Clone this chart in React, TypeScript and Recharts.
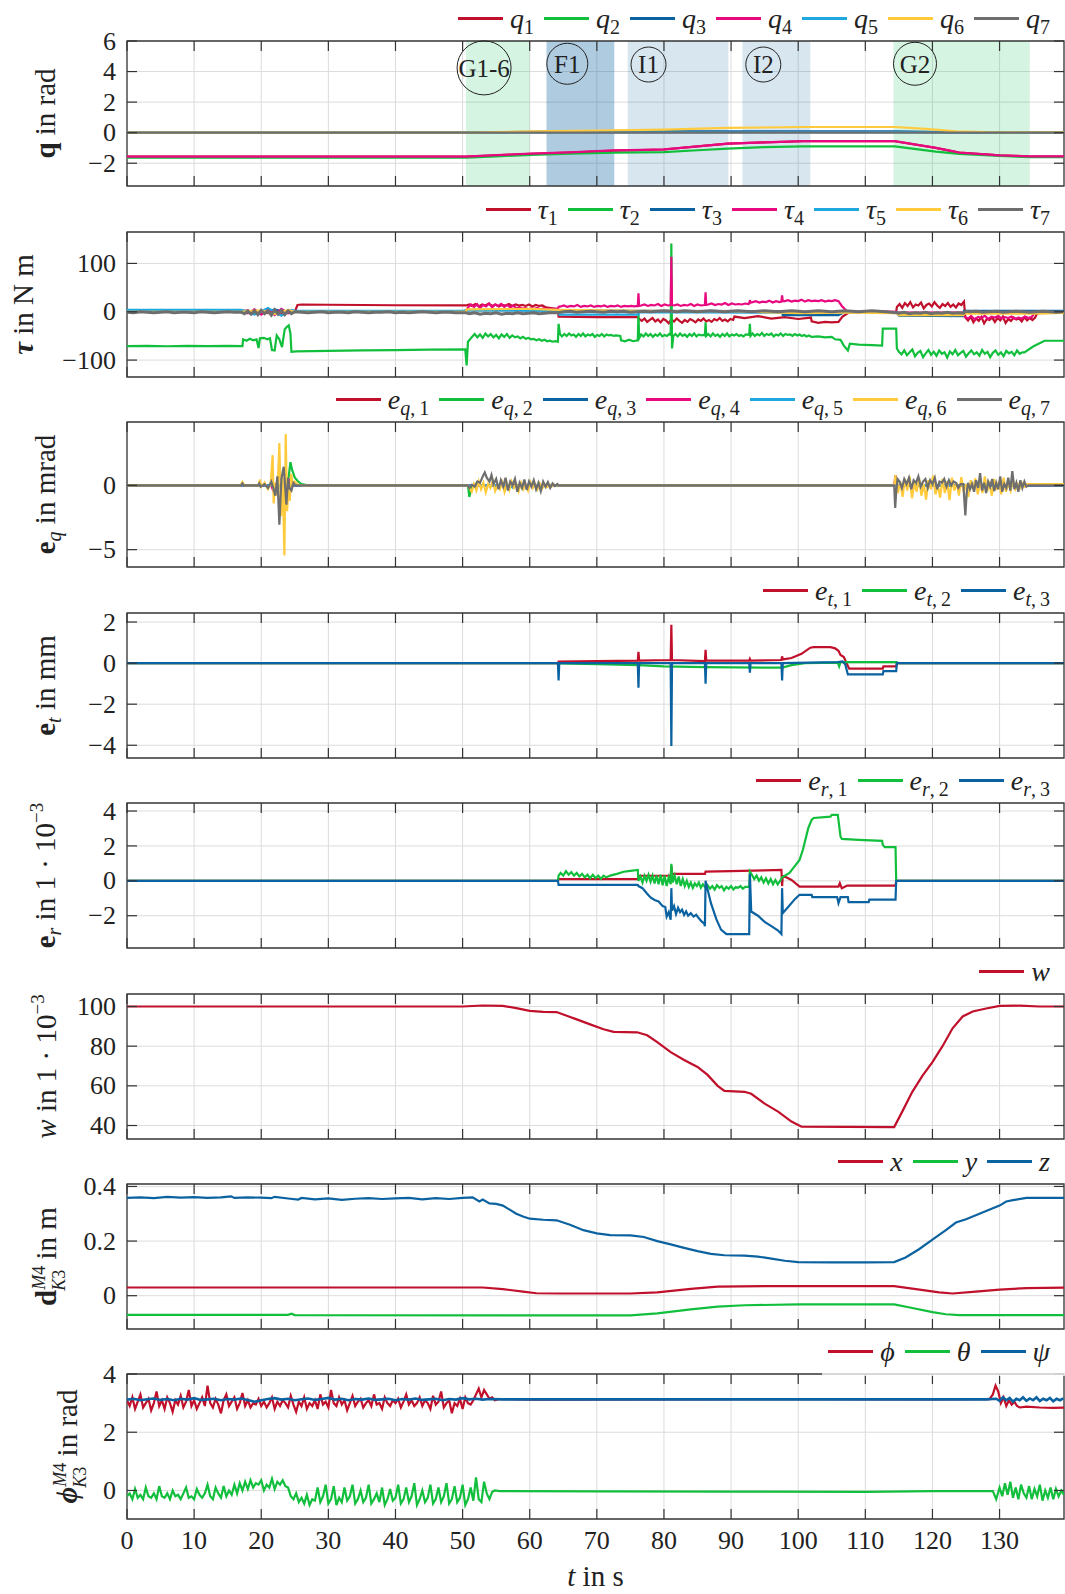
import React from "react";
import { LineChart, Line, XAxis, YAxis, CartesianGrid, ReferenceArea, ReferenceDot } from "recharts";

type P = [number, number];
const seq = (t0: number, dt: number, vals: number[]): P[] =>
  vals.map((v, i) => [Math.round((t0 + i * dt) * 1000) / 1000, v]);
const rows = (a: P[]) => a.map(([t, v]) => ({ t, v }));

// ---------- joint angles q ----------
const Q1: P[] = [[0,-1.57],[50.5,-1.57],[55,-1.48],[60.2,-1.38],[66,-1.3],[72.6,-1.17],[80,-1.1],[85,-0.9],[89.5,-0.72],[95,-0.64],[100.7,-0.56],[114.4,-0.56],[120.5,-1.0],[124,-1.3],[130,-1.48],[134.5,-1.56],[140,-1.56]];
const Q2: P[] = [[0,-1.64],[50.5,-1.64],[55,-1.55],[60.2,-1.45],[66,-1.37],[72.6,-1.3],[80,-1.27],[85,-1.15],[89.5,-1.05],[95,-0.95],[100.7,-0.9],[114.4,-0.9],[120.5,-1.24],[124,-1.39],[130,-1.52],[134.5,-1.6],[140,-1.6]];
const Q3: P[] = [[0,0],[50.5,0],[56,0.04],[62,0.07],[80,0.08],[114.4,0.08],[125,0.02],[140,0]];
const Q4: P[] = [[0,-1.57],[50.5,-1.57],[55,-1.47],[60.2,-1.37],[66,-1.29],[72.6,-1.16],[77,-1.12],[80,-1.09],[85,-0.9],[89.5,-0.72],[95,-0.64],[100.7,-0.55],[114.4,-0.55],[120.5,-1.0],[124,-1.3],[130,-1.48],[134.5,-1.55],[140,-1.55]];
const Q5: P[] = [[0,0],[60,0.02],[114,0.03],[125,0],[140,0]];
const Q6: P[] = [[0,0],[50.5,0],[55,0.04],[60.2,0.09],[70,0.14],[80,0.2],[89.5,0.31],[100.7,0.37],[114.4,0.37],[119,0.25],[123.5,0.09],[128,0.03],[140,0.02]];
const Q7: P[] = [[0,0],[140,0]];

// task phases shown in the joint-angle panel
const PHASE_NAMES = ["G1-6", "F1", "I1", "I2", "G2"];
const PHASE_START = [50.5, 62.5, 74.6, 91.7, 114.2];
const PHASE_END = [60.0, 72.6, 89.6, 101.8, 134.5];
const PHASE_KIND = ["grasp", "force", "insert", "insert", "grasp"];
const PHASE_MARK_T = [53.2, 65.6, 77.7, 94.8, 117.4];
const PHASE_MARK_Q = [4.24, 4.51, 4.46, 4.46, 4.51];

// ---------- joint torques tau ----------
const TAU1: P[] = [
  [0,1],[17,1],[18,3],[19,-2],[20,2],[21,-3],[22,2],[23,-4],[24,3],[25,0],[25.4,14],[26,15],[30,14.5],[40,13.5],[50.5,13],[51,15],
  ...seq(51.4,0.5,[12,16,11,15,13,17,12,15,11,14,13,16,12,15,13,14,12,15,11,14,12,13,9,8,7,6]),
  [64.2,6],[64.3,-10],[70,-11],[76.1,-11],
  ...seq(76.3,0.4,[-15,-19,-14,-21,-17,-13,-20,-16,-22,-15,-18,-24,-16,-20,-14,-19,-23,-17,-21,-15,-18,-22,-16,-19,-14,-20,-17,-21,-15,-18,-13,-19,-16,-20,-15,-17]),
  [90.5,-10],[92,-13],[94,-9],[96,-14],[98,-11],[100,-15],[101.9,-12],[102,-20],[103,-23],[104,-21],[105,-22],[106,-21],[106.6,-10],[107.5,-2],[110,-1],[114.6,-1],
  ...seq(114.7,0.4,[10,16,8,18,12,20,9,15,13,19,7,14,17,11,20,13,8,16,12,18,10,15,9,17,14,21]),
  ...seq(124.9,0.4,[-12,-18,-10,-22,-14,-19,-11,-24,-15,-17,-12,-21,-13,-18,-10,-23,-15,-19,-12,-16,-14,-20,-11,-18,-13,-17,-12]),
  [135.6,-3],[140,-2],
];
const TAU2: P[] = [
  [0,-71],[3,-70.4],[6,-71.4],[9,-70.7],[12,-71.3],[15,-70.6],[17.2,-71],
  [17.3,-57],[17.8,-60],[18.3,-56],[18.8,-59],[19.3,-57],[19.6,-75],[19.8,-55],[20.4,-54],[20.9,-57],[21.3,-55],[21.6,-79],[22.0,-80],[22.3,-49],[22.7,-57],[23.1,-73],[23.5,-36],[23.9,-30],[24.1,-28],[24.35,-45],[24.5,-83],
  [25.2,-82],[30,-81],[35,-80],[40,-79.5],[45,-78.5],[50.4,-78],[50.6,-111],[50.8,-62],[51.4,-52],
  ...seq(51.8,0.4,[-46,-53,-47,-54,-45,-51,-46,-53,-48,-55,-47,-52,-46,-54,-49,-53,-51,-55,-52,-56,-54,-57,-56,-59,-57,-60,-58,-61,-60,-62,-61]),
  [64.2,-62],[64.3,-25],[64.5,-46],
  ...seq(64.8,0.35,[-51,-46,-50,-45,-49,-47,-52,-46,-50,-45,-51,-47,-49,-46,-52,-48,-50,-46,-51,-47,-49,-48,-50,-49]),
  [73.5,-50],[73.6,-59],[74.2,-61],[74.8,-58],[75.4,-61],[76.1,-59],[76.2,-4],[76.3,-55],
  ...seq(76.6,0.35,[-47,-51,-45,-50,-46,-52,-47,-50,-45,-51,-48,-50,-46]),
  [81.0,-48],[81.1,141],[81.2,-76],[81.4,-50],
  ...seq(81.7,0.35,[-46,-51,-45,-50,-47,-52,-46,-50,-45,-51,-47,-49,-48]),
  [86.1,-49],[86.2,-22],[86.3,-50],
  ...seq(86.6,0.35,[-46,-51,-45,-50,-47,-52,-46,-50,-45,-51,-47,-49,-46,-50,-48,-51,-47]),
  [92.7,-48],[92.8,-25],[92.9,-50],
  ...seq(93.2,0.35,[-45,-50,-46,-49,-44,-50,-46,-48,-45,-51,-47,-49,-45,-50,-46,-48,-47,-50,-46,-49,-47,-50,-48,-51,-49]),
  [102,-52],[103,-51],[104,-53],[105,-52],[105.5,-57],[106.3,-58],[106.8,-70],[107.4,-80],[107.7,-66],[109,-68],[111,-69],[112.5,-70],[112.6,-35],[114.6,-35],[114.7,-76],
  ...seq(115.0,0.4,[-83,-88,-80,-90,-84,-78,-92,-85,-81,-94,-86,-79,-89,-83,-91,-80,-87,-84,-95,-82,-88,-79,-90,-85,-81,-93,-86,-80,-88,-84,-91,-79,-87,-83,-94,-85,-80,-89,-84,-92,-81,-86,-83,-90,-80,-87,-84]),
  [133.7,-84],[135,-72],[136.7,-60],[140,-60],
];
const TAU3: P[] = [[0,3],[17,3],[20,-4],[22,5],[24,-3],[25,1],[50,1],[51,4],[60,3],[64.3,3],[76,2],[97.6,1],[97.7,-7],[106,-7],[107,0],[114.7,-1],[115,-8],[124.6,-9],[124.7,2],[140,2]];
const TAU4: P[] = [
  [0,1],[17,1],[18,-3],[19,5],[20,-6],[21,4],[22,-7],[23,6],[24,-3],[25,1],[50.5,1],
  ...seq(50.8,0.45,[9,15,10,16,8,14,11,17,9,15,12,16,10,14,9,13,7,10,6,8,5,7,6,8,5,7,6]),
  [64.2,6],[64.3,10],
  ...seq(64.6,0.5,[11,13,10,12,11,14,10,12,11,13,10,12,11,13,10,12,11,13,10,12,11,12,11]),
  [76.1,12],[76.2,38],[76.3,12],
  ...seq(76.6,0.5,[13,15,12,14,13,16,12,15,13]),
  [81.0,14],[81.1,114],[81.2,14],
  ...seq(81.5,0.5,[13,15,12,14,13,16,12,15,13,14]),
  [86.1,14],[86.2,40],[86.3,14],
  ...seq(86.6,0.5,[15,17,14,16,15,18,14,17,15,16,15,17,16]),
  [92.7,17],[92.8,24],[92.9,19],
  ...seq(93.2,0.5,[20,22,19,21,20,23,19,22,20]),
  [97.5,21],[97.6,34],[97.7,22],
  ...seq(98,0.5,[22,24,21,23,22,25,21,24,22,23,22,24,21,23,22,24]),
  [106,22],[106.5,12],[107.2,2],[107.6,0],[112,1],[114.6,0],[114.7,-2],[124.6,-2],
  ...seq(124.8,0.5,[-10,-14,-9,-16,-11,-13,-8,-15,-10,-12,-9,-14,-11,-13,-10,-15,-12,-14,-10,-13,-11]),
  [135.2,-2],[140,-1],
];
const TAU5: P[] = [[0,4],[17,4],[19,-6],[21,8],[23,-8],[24.5,4],[25,2],[50,2],[51,3],[64.3,2],[64.4,-6],[76.2,-6],[76.3,-1],[97.6,-2],[114.7,-1],[115,-6],[124.6,-6],[124.7,-1],[140,-1]];
const TAU6: P[] = [[0,0],[17,0],[20,3],[22,-5],[24,4],[25,0],[50.5,0],[50.6,5],[60,6],[64.3,4],[76.2,2],[90,1],[100,-3],[107,-2],[114.7,-3],[115,-7],[124.6,-7],[124.7,-4],[135,-4],[140,-2]];
const TAU7: P[] = [
  ...seq(0,1,[-1,-2,0,-1,-2,-1,0,-2,-1,-1,-2,0,-1,-2,-1,0,-1]),
  [17,-1],[17.5,-4],[18,1],[18.5,-5],[19,2],[19.5,-6],[20,3],[20.5,-4],[21,2],[21.5,-7],[22,4],[22.5,-5],[23,3],[23.5,-6],[24,2],[24.5,-4],[25,0],
  ...seq(26,1,[-1,-2,-1,0,-2,-1,-1,-2,0,-1,-2,-1,-1,0,-2,-1,-2,-1,0,-1,-2,-1,-1,-2]),
  [50.5,-2],
  ...seq(51,0.8,[-4,-2,-5,-3,-4,-2,-5,-3,-4,-2,-4,-3,-2,-4,-3,-2]),
  [64.3,-2],
  ...seq(65,1,[0,1,-1,0,1,0,-1,1,0,1,-1,0,1,0,1,2,1,0,2,1,0,1,2,1,0,1,2,1,0,1,2,1,0,1,2,1,0,1,2,1,0,1,2,1,0,1,2,1,0]),
  [114.7,-2],
  ...seq(115,0.8,[-3,-1,-4,-2,-3,-1,-4,-2,-3,-1,-3,-2]),
  [124.6,-3],[125,1],
  ...seq(125.5,1,[0,1,-1,0,1,-1,0,1,0,-1,0,1,0,-1,0]),
];

// ---------- joint errors e_q (mrad) ----------
const EQ1: P[] = [[0,0],[24.2,0],[24.45,0.48],[24.7,0],[50.8,0],[51.0,-0.3],[51.3,0],[140,0]];
const EQ2: P[] = [[0,0],[23.6,0],[23.8,-0.5],[24.0,0.3],[24.35,1.8],[24.6,1.2],[25.0,0.6],[25.5,0.3],[26,0.1],[27,0],[50.8,0],[51.0,-0.9],[51.3,-0.2],[51.6,0],[140,0]];
const EQ3: P[] = [[0,0],[140,0]];
const EQ4: P[] = [[0,0],[21.5,0],[21.7,-0.3],[21.9,0],[23.9,0],[24.1,-0.5],[24.3,0.5],[24.5,0],[114.3,0],[114.5,0.8],[114.7,0],[140,0]];
const EQ5: P[] = [[0,0],[22.8,0],[22.95,-0.4],[23.1,0],[23.9,0.3],[24.1,0],[57,0],[57.5,-0.2],[58,0],[140,0]];
const EQ6: P[] = [
  [0,0],[16.9,0],[17.2,0.25],[17.5,0],[19.6,0],[19.8,0.45],[20.0,-0.1],[20.5,0.2],[21.0,-0.3],[21.4,0.1],[21.7,2.35],[21.85,-1.4],[22.1,0.2],[22.4,-0.8],[22.7,3.3],[22.95,-2.4],[23.2,0.6],[23.45,-5.45],[23.65,4.0],[23.85,-2.0],[24.05,-0.3],[24.25,-1.2],[24.45,0.9],[24.7,0.1],[25.0,0.3],[25.5,0.05],[26,0],[50.8,0],
  ...seq(51.0,0.35,[-0.2,-0.5,0.1,-0.4,0.3,-0.3,0.2,-0.55,0.1,-0.2,0.35,-0.45,0.0,-0.3,0.25,-0.5,0.15,-0.35,0.3,-0.2,0.1,-0.45,0.2,-0.3,0.05,-0.4,0.25,-0.2,0.1,-0.3,0.15,-0.25,0.1,-0.15,0.05,-0.1,0.05,0.0]),
  [64.3,0],[114.3,0],
  ...seq(114.5,0.35,[0.8,-0.6,0.3,-0.9,0.5,-0.4,0.7,-1.0,0.2,-0.5,0.6,-0.8,0.1,-1.1,0.4,-0.3,0.75,-0.7,0.0,-0.95,0.5,-0.6,0.3,-1.15,0.6,-0.4,0.2,-0.8,0.65,-0.5,0.1,-0.9,0.4,-0.3,0.55,-0.7,0.2,-0.6,0.7,-0.45,0.1,-0.8,0.5,-0.35,0.3,-0.7,0.6,-0.5,0.2,-0.4,0.45,-0.3,0.1,-0.2,0.15,-0.1,0.1]),
  [134.3,0.1],[140,0.1],
];
const EQ7: P[] = [
  [0,0],[17.0,0],[17.2,0.15],[17.4,0],[19.5,0],[19.7,0.15],[19.9,-0.1],[20.5,0.1],[21.0,-0.2],[21.5,0.3],[21.8,-0.2],[22.1,-0.8],[22.4,0.7],[22.7,-3.05],[23.0,0.5],[23.35,1.45],[23.6,-0.4],[23.75,-1.5],[24.0,0.6],[24.2,-0.2],[24.5,-0.4],[24.8,0.2],[25.1,0],[50.8,0],
  [51.0,-0.2],[51.4,0.05],[51.8,-0.1],[52.2,0.3],[52.6,0.2],[53.0,0.7],[53.3,1.0],[53.6,0.6],[54.0,0.3],[54.3,0.8],[54.6,0.1],
  ...seq(55,0.35,[0.5,-0.3,0.4,-0.1,0.6,-0.4,0.3,0.0,0.5,-0.5,0.2,-0.2,0.45,-0.35,0.3,-0.1,0.4,-0.3,0.2,-0.45,0.3,-0.1,0.25,-0.2,0.15,-0.05,0.1]),
  [64.3,0],[114.3,0],[114.45,-1.76],[114.6,-0.5],[114.8,0.5],
  ...seq(115.1,0.35,[0.3,-0.2,0.5,0.1,0.6,-0.3,0.4,0.2,0.7,-0.1,0.3,0.5,-0.2,0.4,0.1,0.6,-0.3,0.3,0.2,0.5,-0.1,0.4,0.0,0.3,0.2,-0.2,0.1]),
  [124.6,0.1],[124.9,-2.33],[125.1,-0.6],[125.3,0.2],
  ...seq(125.6,0.3,[-0.3,0.1,-0.5,0.4,-0.2,0.96,-0.4,0.2,-0.6,0.3,-0.1,0.5,-0.45,0.2,-0.3,0.7,-0.5,0.1,-0.2,0.6,-0.4,1.1,-0.3,0.2,-0.5,0.4,-0.2,0.3,-0.1]),
  [134.3,0],[140,0],
];

// ---------- translational error e_t (mm) ----------
const ET1: P[] = [[0,0],[64.2,0],[64.3,0.08],[70,0.1],[76.1,0.12],[76.2,0.55],[76.3,0.12],[81.0,0.15],[81.1,1.87],[81.2,0.15],[86.1,0.1],[86.2,0.65],[86.3,0.12],[92.7,0.12],[92.8,0.2],[92.9,0.12],[97.5,0.15],[97.6,0.33],[97.7,0.18],[99,0.25],[100.5,0.45],[101.8,0.75],[102.3,0.78],[104.8,0.78],[105.5,0.72],[106.0,0.6],[106.3,0.4],[106.8,0.3],[107.2,0],[107.6,-0.27],[112.6,-0.27],[112.7,-0.16],[114.6,-0.16],[114.7,0],[140,0]];
const ET2: P[] = [[0,0],[64.2,0],[64.3,-0.02],[70,-0.05],[76.2,-0.1],[80,-0.16],[86,-0.2],[97.6,-0.22],[99,-0.1],[101,0],[105.9,0.02],[106.1,-0.16],[106.3,0.05],[114.7,0.05],[114.8,0],[140,0]];
const ET3: P[] = [[0,0],[64.2,0],[64.3,-0.84],[64.4,0],[76.1,0],[76.2,-1.2],[76.3,0],[81.0,0],[81.1,-4.04],[81.2,0],[86.1,0],[86.2,-1.0],[86.3,0],[92.7,0],[92.8,-0.47],[92.9,0],[97.5,0],[97.6,-0.85],[97.7,0],[105.9,0.05],[106.6,0.08],[107,-0.05],[107.4,-0.55],[112.6,-0.55],[112.7,-0.39],[114.6,-0.39],[114.7,0],[140,0]];

// ---------- rotational error e_r (1e-3) ----------
const ER1: P[] = [[0,0],[64.2,0],[64.3,0.1],[76.1,0.1],[76.2,0.29],[81.0,0.3],[81.1,0.85],[81.2,0.4],[86.1,0.4],[86.2,0.53],[90,0.56],[95,0.6],[97.5,0.63],[97.6,-0.3],[97.7,0.3],[99,0.05],[100.2,-0.33],[106,-0.33],[106.2,-0.14],[106.5,-0.43],[107.3,-0.27],[114.5,-0.27],[114.6,0],[140,0]];
const ER2: P[] = [
  [0,0],[64.2,0],[64.3,0.3],
  ...seq(64.6,0.4,[0.45,0.3,0.55,0.35,0.5,0.3,0.45,0.25,0.4,0.2,0.35,0.15,0.35,0.15,0.3,0.12,0.3,0.2]),
  [72,0.3],[73,0.4],[74,0.52],[75,0.57],[76.1,0.62],[76.2,0.0],
  ...seq(76.5,0.3,[0.25,-0.1,0.3,0.0,0.35,-0.05,0.3,-0.15,0.3,-0.2,0.35,-0.25,0.3,-0.3,0.2,-0.2]),
  [81.1,0.97],[81.3,-0.1],
  ...seq(81.6,0.3,[0.3,-0.2,0.25,-0.3,0.1,-0.3,0.0,-0.35,-0.1,-0.4,-0.15,-0.3,-0.1,-0.4,-0.2]),
  [86.2,-0.4],
  ...seq(86.5,0.35,[-0.25,-0.45,-0.3,-0.5,-0.25,-0.4,-0.3,-0.55,-0.35,-0.45,-0.3,-0.5,-0.35,-0.4,-0.3,-0.45,-0.35]),
  [92.7,-0.35],[92.8,0.53],
  ...seq(93.1,0.35,[0.35,0.1,0.3,0.0,0.2,-0.1,0.15,-0.15,0.1,-0.2,0.05,-0.2,0.0]),
  [97.6,0.2],[98.7,0.45],[99.4,0.8],[100.2,1.2],[100.7,1.78],[101.5,3.02],[102,3.49],[102.3,3.6],[104.8,3.68],[105,3.78],[105.9,3.78],[106.3,2.54],[106.5,2.4],[109,2.35],[112.5,2.29],[112.6,2.06],[112.9,1.93],[114.5,1.93],[114.6,0],[140,0],
];
const ER3: P[] = [[0,0],[64.2,0],[64.3,-0.23],[76.1,-0.23],[76.2,-0.3],[76.8,-0.42],[77.4,-0.7],[78.0,-0.95],[78.6,-1.1],[79.2,-1.18],[79.8,-1.45],[80.2,-1.5],[80.4,-2.05],[80.7,-1.8],[81.0,-2.23],[81.1,-0.42],[81.2,-1.7],[81.5,-1.45],[81.8,-1.9],[82.1,-1.55],[82.4,-1.8],[82.7,-1.65],[83.0,-1.95],[83.3,-1.75],[83.6,-2.0],[84.0,-1.85],[84.4,-2.05],[84.8,-1.95],[85.2,-2.15],[85.6,-2.33],[86.0,-2.45],[86.1,-2.6],[86.2,0.0],[86.5,-0.5],[87,-1.28],[87.8,-2.2],[88.5,-2.8],[89.3,-3.05],[92.7,-3.05],[92.8,0.4],[93.0,-1.76],[94,-2.0],[95,-2.35],[96,-2.6],[97,-2.85],[97.5,-3.05],[97.6,-0.42],[97.7,-1.85],[98.5,-1.5],[99.5,-1.05],[100.2,-0.8],[102,-0.8],[102.1,-0.93],[105.8,-0.93],[106.0,-1.28],[106.3,-0.93],[107.4,-0.93],[107.5,-1.22],[110.5,-1.22],[110.6,-1.08],[114.5,-1.08],[114.6,0],[140,0]];

// ---------- manipulability w (1e-3) ----------
const W_MEAS: P[] = [[0,100],[50,100],[53,100.5],[56,100.3],[58,99.2],[60,97.8],[62,97.3],[64,97.2],[65,96],[67,93.5],[69,91],[71,88.5],[72.5,87.2],[76,87],[77.5,85.5],[79,82],[81,77],[83,73],[85,69.5],[86.5,65.5],[88,60],[89,57.5],[92,57],[93,56],[95,51],[97,47],[99,42],[100.5,39.4],[114.3,39.2],[115.5,47],[117,57],[118.5,65],[120,72],[121.5,80],[123,89],[124.5,95],[126,97.5],[128,99],[130,100.3],[133,100.4],[136,100],[140,100]];

// ---------- relative position d (m) ----------
const DX: P[] = [[0,0.03],[53,0.03],[56,0.024],[59,0.015],[61,0.009],[65,0.008],[75,0.008],[79,0.012],[84,0.025],[88,0.033],[95,0.035],[114.3,0.035],[117,0.026],[121,0.012],[123,0.008],[126,0.014],[130,0.022],[134,0.028],[140,0.03]];
const DY: P[] = [[0,-0.07],[24,-0.07],[24.5,-0.066],[25,-0.071],[60,-0.072],[75,-0.072],[79,-0.065],[84,-0.05],[88,-0.04],[92,-0.035],[100,-0.032],[114.3,-0.032],[117,-0.045],[120,-0.06],[122,-0.068],[124,-0.071],[140,-0.071]];
const DZ: P[] = [[0,0.358],[2,0.36],[4,0.357],[6,0.362],[8,0.359],[10,0.361],[12,0.358],[14,0.36],[15.5,0.364],[16,0.358],[18,0.36],[20,0.359],[21.5,0.357],[22,0.362],[24,0.356],[25.5,0.352],[26,0.358],[28,0.353],[30,0.356],[32,0.351],[34,0.355],[36,0.357],[38,0.354],[40,0.356],[42,0.358],[44,0.353],[46,0.357],[48,0.354],[50,0.358],[51.5,0.36],[52.5,0.345],[53,0.352],[54,0.338],[55,0.336],[56,0.33],[57,0.315],[58,0.3],[59,0.29],[60,0.282],[62,0.278],[64,0.276],[66,0.26],[68,0.24],[70,0.228],[72,0.222],[75,0.221],[77,0.215],[79,0.2],[81,0.188],[83,0.175],[85,0.163],[87,0.153],[89,0.148],[92,0.147],[94,0.143],[96,0.136],[98,0.128],[100,0.123],[105,0.122],[110,0.122],[114.3,0.123],[116,0.14],[118,0.17],[120,0.205],[122,0.24],[123.5,0.268],[125,0.28],[127,0.3],[129,0.32],[130,0.33],[131,0.345],[132,0.35],[134,0.358],[136,0.358],[140,0.358]];

// ---------- relative orientation (rad) ----------
const PHI: P[] = [
  ...seq(0,0.4,[3.1,2.9,3.2,2.8,3.05,3.3,2.85,3.0,3.15,2.75, 3.0,3.4,2.9,3.1,2.8,3.2,3.0,2.7,3.1,2.95, 3.25,2.85,3.05,3.45,2.9,3.1,2.8,3.0,3.2,2.9, 3.6,3.0,2.85,3.15,2.95,2.65,3.1,3.3,2.9,3.05, 3.2,2.8,3.0,3.35,2.9,3.1,2.85,3.0,2.95,3.15, 2.9,3.05,2.85,3.0,3.2,2.8,3.05,2.9,3.1,3.0, 2.85,3.25,2.95,2.7,3.05,2.9,3.2,2.8,3.0,2.9, 3.1,2.8,3.3,2.95,3.05,2.85,3.45,3.0,2.9,3.2, 2.95,3.1,2.75,3.0,3.25,2.9,3.05,3.15,2.85,3.0, 3.1,2.9,3.3,2.95,3.0,2.8,3.2,3.0,2.9,3.1, 3.0,3.15,2.85,3.05,3.3,2.95,3.1,2.9,3.0,3.2, 2.9,3.1,3.0,2.8,3.25,2.95,3.05,3.4,2.85,3.0, 3.1,2.65,3.0,2.9,3.15,2.8,3.2,3.0,2.95,3.1, 3.3,3.5,3.2,3.45,3.3,3.15,3.2,3.1]),
  [55.5,3.14],[60,3.12],[80,3.13],[100,3.14],[120,3.13],[128.5,3.14],[129,3.3],[129.4,3.6],[129.8,3.4],[130.2,3.0],[130.6,3.2],[131,2.9],[131.4,3.1],[131.8,2.95],[132.2,3.05],[132.6,2.9],[133,2.85],[134,2.88],[136,2.85],[138,2.84],[140,2.85],
];
const THETA: P[] = [
  ...seq(0,0.4,[-0.2,-0.1,-0.3,0.05,-0.25,-0.15,-0.3,0.1,-0.2,-0.25, -0.1,-0.3,0.15,-0.2,-0.25,-0.1,-0.3,0.0,-0.2,-0.15, -0.3,-0.1,0.1,-0.25,-0.2,-0.3,0.05,-0.15,-0.25,-0.1, 0.2,-0.2,-0.3,0.1,-0.1,-0.25,0.15,-0.2,0.0,-0.15, 0.2,-0.1,0.25,0.0,0.3,0.05,0.35,0.1,0.25,0.2, 0.35,0.0,0.2,0.1,0.4,0.05,0.3,0.2,0.35,0.15, 0.1,-0.2,-0.3,-0.1,-0.4,-0.25,-0.45,-0.15,-0.5,-0.3, -0.35,0.1,-0.4,-0.2,0.2,-0.45,-0.3,0.15,-0.5,-0.25, -0.4,0.1,-0.35,-0.2,0.2,-0.45,-0.3,0.0,-0.4,-0.25, 0.2,-0.45,-0.3,-0.1,-0.4,0.1,-0.5,-0.3,0.05,-0.35, -0.25,0.2,-0.45,-0.3,0.1,-0.4,-0.2,0.25,-0.5,-0.3, 0.0,-0.4,-0.25,0.2,-0.45,-0.3,0.1,-0.4,-0.2,0.25, -0.45,-0.3,0.15,-0.4,-0.25,0.2,-0.5,-0.3,0.1,-0.35, 0.45,-0.3,-0.4,0.3,-0.1,-0.3,-0.05,0.0]),
  [55.5,-0.02],[70,-0.03],[90,-0.04],[110,-0.05],[120,-0.02],[129,-0.02],[129.5,-0.3],
  ...seq(130,0.4,[0.1,-0.2,0.25,-0.15,0.3,-0.25,0.1,-0.3,0.2,-0.1,-0.25,0.15,-0.3,0.05,-0.2,0.2,-0.35,0.0,-0.25,0.1,-0.3,0.05,-0.2,0.0,-0.15]),
];
const PSI: P[] = [
  ...seq(0,1,[3.12,3.15,3.1,3.13,3.16,3.11,3.14,3.1,3.15,3.12,3.17,3.11,3.13,3.15,3.1,3.14,3.12,3.16,3.11,3.05,3.1,3.14,3.17,3.12,3.15,3.1,3.13,3.16,3.11,3.14,3.18,3.12,3.15,3.1,3.14,3.12,3.16,3.11,3.13,3.15,3.1,3.14,3.12,3.16,3.11,3.13,3.15,3.1,3.14,3.12,3.17,3.13,3.15,3.12,3.14]),
  [56,3.13],[80,3.13],[128,3.13],
  ...seq(129.5,0.5,[3.15,3.08,3.2,3.1,3.18,3.05,3.15,3.1,3.2,3.08,3.16,3.1,3.2,3.07,3.15,3.1,3.18,3.06,3.15,3.1,3.16]),
];

// ---------- layout & styling ----------
const FONT = "'Liberation Serif', 'Times New Roman', serif";
const RED = "#C0102B", GREEN = "#12BF3C", BLUE = "#0B62A0", MAGENTA = "#E8087F", CYAN = "#1FA7E0", YELLOW = "#FFCB3D", GRAY = "#6E6E6E";
const JOINT_COLORS = [RED, GREEN, BLUE, MAGENTA, CYAN, YELLOW, GRAY];
const PAGE_W = 1065, PAGE_H = 1594;
const PLOT_L = 127, PLOT_R = 1064, PANEL_H = 145, TOP_PAD = 20;
const X_MAX = 139.6;
const X_TICKS = [0, 10, 20, 30, 40, 50, 60, 70, 80, 90, 100, 110, 120, 130];
const PANEL_TOPS = [41, 232, 422, 613, 803, 994, 1184, 1374];
const PHASE_FILL: Record<string, string> = { grasp: "rgba(46,200,110,0.2)", force: "rgba(11,98,160,0.33)", insert: "rgba(11,98,160,0.16)" };
const PHASE_MARK_R = [27, 20.5, 17.5, 17.5, 21.5];
const TICK_FS = 26;

const fmtNum = (v: number) => (v < 0 ? "\u2212" + Math.abs(v) : String(v));

type SeriesDef = { data: P[]; color: string; width?: number };
type PanelProps = { top: number; domain: [number, number]; yTicks: number[]; series: SeriesDef[]; last?: boolean; extras?: React.ReactNode };

function Panel({ top, domain, yTicks, series, last, extras }: PanelProps) {
  const xh = last ? 70 : 8;
  const H = TOP_PAD + PANEL_H + xh;
  const plotTop = TOP_PAD;
  const plotBottom = TOP_PAD + PANEL_H;
  const yTick = (p: any) => (
    <g>
      <line x1={PLOT_L} x2={PLOT_L + 10} y1={p.y} y2={p.y} stroke="#333" strokeWidth={1.2} />
      <line x1={PLOT_R - 10} x2={PLOT_R} y1={p.y} y2={p.y} stroke="#333" strokeWidth={1.2} />
      <text x={PLOT_L - 11} y={p.y} dy="0.33em" textAnchor="end" fontFamily={FONT} fontSize={TICK_FS} fill="#222">
        {fmtNum(p.payload.value)}
      </text>
    </g>
  );
  const xTick = (p: any) => (
    <g>
      <line x1={p.x} x2={p.x} y1={plotTop} y2={plotTop + 10} stroke="#333" strokeWidth={1.2} />
      <line x1={p.x} x2={p.x} y1={plotBottom - 10} y2={plotBottom} stroke="#333" strokeWidth={1.2} />
      {last && (
        <text x={p.x} y={plotBottom + 21} dy="0.33em" textAnchor="middle" fontFamily={FONT} fontSize={TICK_FS} fill="#222">
          {p.payload.value}
        </text>
      )}
    </g>
  );
  return (
    <div style={{ position: "absolute", left: 0, top: top - TOP_PAD }}>
      <LineChart width={PAGE_W} height={H} margin={{ top: TOP_PAD, right: PAGE_W - PLOT_R, bottom: 0, left: 0 }}>
        <CartesianGrid stroke="#DCDCDC" strokeWidth={1} />
        <XAxis type="number" dataKey="t" domain={[0, X_MAX]} ticks={X_TICKS} interval={0} height={xh} axisLine={false} tickLine={false} tick={xTick} allowDataOverflow />
        <YAxis type="number" domain={domain} ticks={yTicks} interval={0} width={PLOT_L} axisLine={false} tickLine={false} tick={yTick} allowDataOverflow />
        {extras}
        {series.map((s, i) => (
          <Line key={i} data={rows(s.data)} dataKey="v" name={"s" + i} stroke={s.color} strokeWidth={s.width ?? 2.2} dot={false} activeDot={false} isAnimationActive={false} type="linear" />
        ))}
        <ReferenceArea x1={0} x2={X_MAX} y1={domain[0]} y2={domain[1]} fill="none" stroke="#3A3A3A" strokeWidth={1.3} />
      </LineChart>
    </div>
  );
}

const SUB: React.CSSProperties = { fontSize: 20, position: "relative", top: 6, fontStyle: "normal" };
const sym = (main: string, sub?: React.ReactNode) => (
  <span>
    <i>{main}</i>
    {sub !== undefined && <span style={SUB}>{sub}</span>}
  </span>
);

function LegendRow({ top, items }: { top: number; items: { color: string; label: React.ReactNode }[] }) {
  return (
    <div style={{ position: "absolute", right: 15, top: top - 22.5 - 16, height: 32, display: "flex", alignItems: "center", fontFamily: FONT, fontSize: 28, color: "#222", whiteSpace: "nowrap", lineHeight: 1 }}>
      {items.map((it, i) => (
        <span key={i} style={{ display: "flex", alignItems: "center" }}>
          <span style={{ display: "inline-block", width: 45, height: 2.5, background: it.color, margin: "0 7px 0 10px" }} />
          {it.label}
        </span>
      ))}
    </div>
  );
}

const J = [1, 2, 3, 4, 5, 6, 7];
const sep = (axis: string, j: number) => (
  <>
    <i>{axis}</i>,&#8201;{j}
  </>
);

export default function App() {
  const phaseExtras = (
    <>
      {PHASE_NAMES.map((n, i) => (
        <ReferenceArea key={"a" + n} x1={PHASE_START[i]} x2={PHASE_END[i]} y1={-3.49} y2={6} fill={PHASE_FILL[PHASE_KIND[i]]} fillOpacity={1} stroke="none" />
      ))}
      {PHASE_NAMES.map((n, i) => (
        <ReferenceDot key={"d" + n} x={PHASE_MARK_T[i]} y={PHASE_MARK_Q[i]} r={PHASE_MARK_R[i]} fill="none" stroke="#222" strokeWidth={1}
          label={{ value: n, position: "center", fontSize: 25, fontFamily: FONT, fill: "#222" }} />
      ))}
    </>
  );
  const yLabelX = [55, 33, 55, 55, 55, 56, 56, 77];
  const cy = (i: number) => PANEL_TOPS[i] + PANEL_H / 2;
  const lab = (i: number, content: React.ReactNode) => (
    <text key={i} transform={`translate(${yLabelX[i]},${cy(i)}) rotate(-90)`} textAnchor="middle" fontSize={29}>
      {content}
    </text>
  );
  return (
    <div style={{ position: "absolute", left: 0, top: 0, width: PAGE_W, height: PAGE_H, background: "#fff", overflow: "hidden" }}>
      <Panel top={PANEL_TOPS[0]} domain={[-3.49, 6]} yTicks={[-2, 0, 2, 4, 6]} extras={phaseExtras}
        series={[Q1, Q2, Q3, Q4, Q5, Q6, Q7].map((d, i) => ({ data: d, color: JOINT_COLORS[i] }))} />
      <Panel top={PANEL_TOPS[1]} domain={[-135, 165]} yTicks={[-100, 0, 100]}
        series={[TAU1, TAU2, TAU3, TAU4, TAU5, TAU6, TAU7].map((d, i) => ({ data: d, color: JOINT_COLORS[i], width: i === 6 ? 3 : 2.2 }))} />
      <Panel top={PANEL_TOPS[2]} domain={[-6.35, 4.93]} yTicks={[-5, 0]}
        series={[EQ1, EQ2, EQ3, EQ4, EQ5, EQ6, EQ7].map((d, i) => ({ data: d, color: JOINT_COLORS[i] }))} />
      <Panel top={PANEL_TOPS[3]} domain={[-4.62, 2.44]} yTicks={[-4, -2, 0, 2]}
        series={[ET1, ET2, ET3].map((d, i) => ({ data: d, color: JOINT_COLORS[i] }))} />
      <Panel top={PANEL_TOPS[4]} domain={[-3.85, 4.46]} yTicks={[-2, 0, 2, 4]}
        series={[ER1, ER2, ER3].map((d, i) => ({ data: d, color: JOINT_COLORS[i] }))} />
      <Panel top={PANEL_TOPS[5]} domain={[33.2, 106.3]} yTicks={[40, 60, 80, 100]}
        series={[{ data: W_MEAS, color: RED }]} />
      <Panel top={PANEL_TOPS[6]} domain={[-0.122, 0.409]} yTicks={[0, 0.2, 0.4]}
        series={[DX, DY, DZ].map((d, i) => ({ data: d, color: JOINT_COLORS[i] }))} />
      <Panel top={PANEL_TOPS[7]} domain={[-0.98, 4]} yTicks={[0, 2, 4]} last
        series={[PHI, THETA, PSI].map((d, i) => ({ data: d, color: JOINT_COLORS[i], width: i === 2 ? 2.6 : 2.2 }))} />

      <LegendRow top={PANEL_TOPS[0]} items={J.map((j, i) => ({ color: JOINT_COLORS[i], label: sym("q", j) }))} />
      <LegendRow top={PANEL_TOPS[1]} items={J.map((j, i) => ({ color: JOINT_COLORS[i], label: sym("τ", j) }))} />
      <LegendRow top={PANEL_TOPS[2]} items={J.map((j, i) => ({ color: JOINT_COLORS[i], label: sym("e", sep("q", j)) }))} />
      <LegendRow top={PANEL_TOPS[3]} items={[1, 2, 3].map((j, i) => ({ color: JOINT_COLORS[i], label: sym("e", sep("t", j)) }))} />
      <LegendRow top={PANEL_TOPS[4]} items={[1, 2, 3].map((j, i) => ({ color: JOINT_COLORS[i], label: sym("e", sep("r", j)) }))} />
      <LegendRow top={PANEL_TOPS[5]} items={[{ color: RED, label: sym("w") }]} />
      <LegendRow top={PANEL_TOPS[6]} items={["x", "y", "z"].map((n, i) => ({ color: JOINT_COLORS[i], label: sym(n) }))} />
      <div style={{ position: "absolute", left: 822, top: PANEL_TOPS[7] - 38, width: 243, height: 40, background: "rgba(255,255,255,0.75)" }} />
      <LegendRow top={PANEL_TOPS[7]} items={["ϕ", "θ", "ψ"].map((n, i) => ({ color: JOINT_COLORS[i], label: sym(n) }))} />

      <svg width={PAGE_W} height={PAGE_H} style={{ position: "absolute", left: 0, top: 0, pointerEvents: "none" }} fontFamily={FONT} fill="#222">
        {lab(0, <><tspan fontWeight="bold">q</tspan> in rad</>)}
        {lab(1, <><tspan fontWeight="bold" fontStyle="italic">τ</tspan> in N m</>)}
        {lab(2, <><tspan fontWeight="bold">e</tspan><tspan fontStyle="italic" fontSize={20} dy={6}>q</tspan><tspan dy={-6}> in mrad</tspan></>)}
        {lab(3, <><tspan fontWeight="bold">e</tspan><tspan fontStyle="italic" fontSize={20} dy={6}>t</tspan><tspan dy={-6}> in mm</tspan></>)}
        {lab(4, <><tspan fontWeight="bold">e</tspan><tspan fontStyle="italic" fontSize={20} dy={6}>r</tspan><tspan dy={-6}> in 1 · 10</tspan><tspan fontSize={19} dy={-12}>−3</tspan></>)}
        {lab(5, <><tspan fontStyle="italic">w</tspan> in 1 · 10<tspan fontSize={19} dy={-12}>−3</tspan></>)}
        {lab(6, <><tspan fontWeight="bold">d</tspan><tspan fontSize={18} dy={-11}><tspan fontStyle="italic">M</tspan>4</tspan><tspan fontSize={18} dx={-25} dy={20}><tspan fontStyle="italic">K</tspan>3</tspan><tspan dx={3} dy={-9}> in m</tspan></>)}
        {lab(7, <><tspan fontWeight="bold" fontStyle="italic">ϕ</tspan><tspan fontSize={18} dy={-11}><tspan fontStyle="italic">M</tspan>4</tspan><tspan fontSize={18} dx={-25} dy={20}><tspan fontStyle="italic">K</tspan>3</tspan><tspan dx={3} dy={-9}> in rad</tspan></>)}
        <text x={(PLOT_L + PLOT_R) / 2} y={1586} textAnchor="middle" fontSize={29}>
          <tspan fontStyle="italic">t</tspan> in s
        </text>
      </svg>
    </div>
  );
}
